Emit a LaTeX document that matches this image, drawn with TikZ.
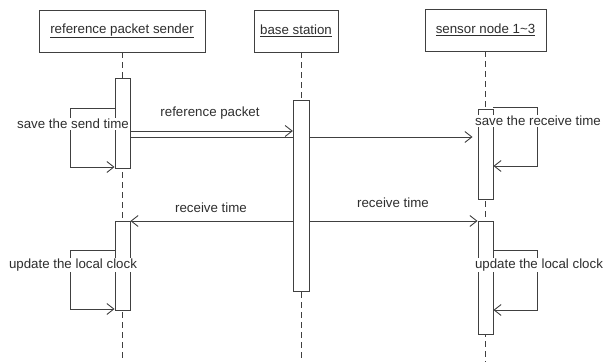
\documentclass[tikz,border=0pt]{standalone}
\usepackage{fontspec}
\setmainfont{Liberation Sans}
\usetikzlibrary{arrows.meta,positioning}
\definecolor{umlline}{gray}{0.25}
\definecolor{umltext}{gray}{0.18}
\tikzset{
  headbox/.style={draw=umlline, fill=white, minimum height=42pt, inner sep=0pt, text=umltext},
  actbox/.style={draw=umlline, fill=white, minimum width=15pt, inner sep=0pt},
  lifeline/.style={draw=umlline, dash pattern=on 6pt off 4pt},
  msgarrow/.style={draw=umlline, -{Straight Barb[length=7pt, width=11pt]}},
  msgline/.style={draw=umlline},
  msglabel/.style={text=umltext, inner sep=1pt},
  looplabel/.style={text=umltext, fill=white, inner sep=1pt},
}

\begin{document}
\begin{tikzpicture}[x=1pt, y=-1pt, line width=0.9pt, font=\fontsize{13.3}{16}\selectfont]
  \useasboundingbox (0,0) rectangle (605,362);

  % heads of the three lifelines
  \node[headbox, minimum width=166pt] (sender) at (122,31) {\underline{reference packet sender}};
  \node[headbox, minimum width=84pt] (station) at (296,31) {\underline{base station}};
  \node[headbox, minimum width=121pt] (sensor) at (485.5,30) {\underline{sensor node 1\textasciitilde3}};

  \coordinate (sndbot) at (122.5,362);
  \coordinate (stbot) at (301.3,362);
  \coordinate (snsbot) at (485.5,362);

  % lifelines
  \draw[lifeline] (sender.south -| sndbot) -- (sndbot);
  \draw[lifeline] (station.south -| stbot) -- (stbot);
  \draw[lifeline] (sensor.south -| snsbot) -- (snsbot);

  % activation bars
  \node[actbox, minimum height=90pt] (sndact1) at (122.5,123) {};
  \node[actbox, minimum height=89pt] (sndact2) at (122.5,265.5) {};
  \node[actbox, minimum width=16pt, minimum height=191pt] (stact) at (301.3,195.5) {};
  \node[actbox, minimum height=90pt] (snsact1) at (485.5,154) {};
  \node[actbox, minimum height=113pt] (snsact2) at (485.5,277.5) {};

  % messages
  \draw[msgarrow] (sndact1.east |- 0,131) -- (stact.west |- 0,131);
  \draw[msgline] (sndact1.east |- 0,137) -- (stact.west |- 0,137);
  \draw[msgarrow, shorten >=5pt] (stact.east |- 0,137) -- (snsact1.west |- 0,137);
  \draw[msgarrow] (stact.west |- 0,221) -- (sndact2.east |- 0,221);
  \draw[msgarrow] (stact.east |- 0,221) -- (snsact2.west |- 0,221);

  \node[msglabel] (pktlbl) at (210,113) {reference packet};
  \node[msglabel] (rcvlbl1) at (211,208) {receive time};
  \node[msglabel] (rcvlbl2) at (393,203) {receive time};

  % self calls
  \draw[msgarrow] (sndact1.west |- 0,108) -- ++(-44,0) |- (sndact1.west |- 0,167);
  \draw[msgarrow] (snsact1.east |- 0,107.5) -- ++(44,0) |- (snsact1.east |- 0,166);
  \draw[msgarrow] (sndact2.west |- 0,250) -- ++(-44,0) |- (sndact2.west |- 0,309);
  \draw[msgarrow] (snsact2.east |- 0,250) -- ++(44,0) |- (snsact2.east |- 0,310);

  \node[looplabel] (savesnd) at (73,124) {save the send time};
  \node[looplabel] (savercv) at (538,121) {save the receive time};
  \node[looplabel] (updsnd) at (73,265) {update the local clock};
  \node[looplabel] (updsns) at (539,265) {update the local clock};
\end{tikzpicture}
\end{document}
